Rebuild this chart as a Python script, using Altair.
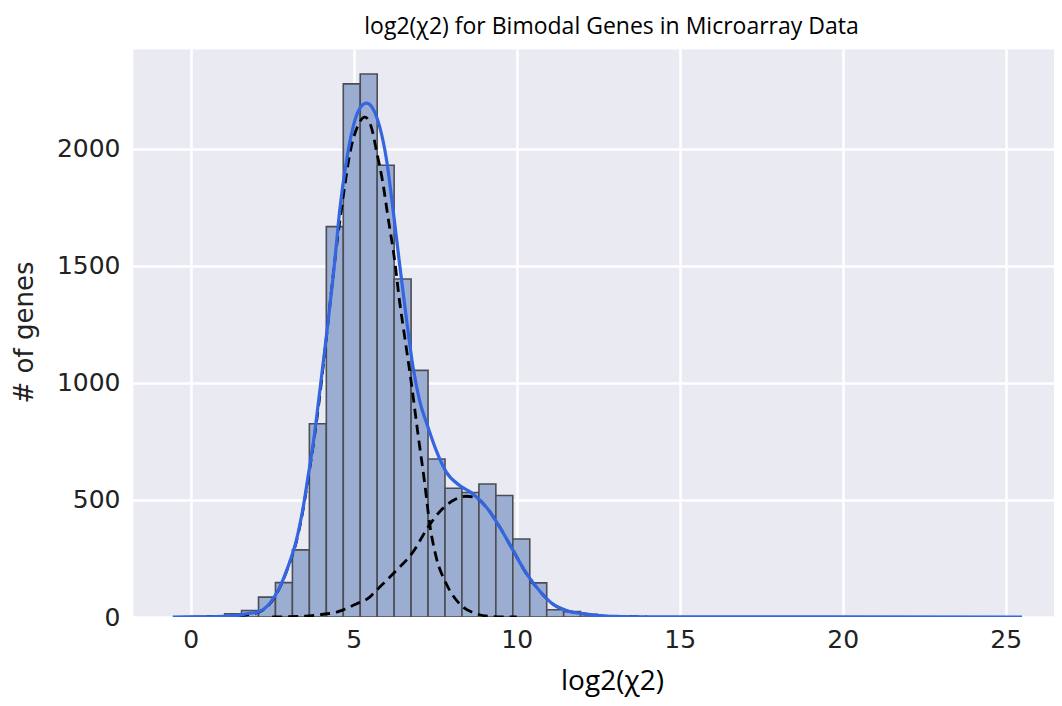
import altair as alt
import pandas as pd

# ---- data ----
bin_start = [0.0, 0.52, 1.04, 1.56, 2.08, 2.6, 3.12, 3.64, 4.16, 4.68,
             5.2, 5.72, 6.24, 6.76, 7.28, 7.8, 8.32, 8.84, 9.36, 9.88,
             10.4, 10.92, 11.44, 11.96, 12.48, 13.0, 13.52, 14.04]
bin_width = 0.52
counts = [3, 5, 14, 28, 85, 147, 287, 826, 1668, 2278, 2320, 1930, 1444, 1054,
          675, 550, 532, 568, 519, 333, 146, 31, 23, 12, 5, 3, 1, 1]

mix_x = [-0.55, 0.5, 1.0, 1.5, 1.71, 2.07, 2.42, 2.73, 2.98, 3.24, 3.45, 3.6,
         3.77, 3.92, 4.11, 4.42, 4.57, 4.78, 4.98, 5.18, 5.39, 5.59, 5.8, 6.01,
         6.21, 6.38, 6.61, 6.82, 7.02, 7.28, 7.53, 7.84, 8.25, 8.66, 9.07, 9.48,
         9.89, 10.3, 10.71, 11.11, 11.52, 12.13, 12.6, 13.2, 14.0, 25.5]
mix_y = [0, 1, 3, 8, 14, 22, 58, 127, 213, 327, 469, 600,
         754, 920, 1139, 1523, 1737, 1951, 2093, 2172, 2196, 2172, 2093, 1951,
         1737, 1540, 1281, 1068, 925, 811, 712, 619, 562, 526, 469, 384,
         284, 185, 110, 55, 28, 12, 5, 2, 0.5, 0]

c1_x = [0.5, 1.5, 2.07, 2.42, 2.73, 2.98, 3.24, 3.45, 3.6, 3.77, 3.92, 4.11,
        4.47, 4.72, 4.88, 5.13, 5.34, 5.54, 5.7, 5.9, 6.05, 6.26, 6.41, 6.56,
        6.77, 6.97, 7.18, 7.33, 7.53, 7.84, 8.25, 8.76, 9.27, 10.0]
c1_y = [0, 6, 20, 55, 125, 210, 322, 462, 590, 745, 900, 1130,
        1580, 1837, 1979, 2100, 2136, 2093, 1990, 1850, 1710, 1520, 1345, 1200,
        997, 783, 569, 398, 256, 142, 56, 14, 2, 0]

c2_x = [2.5, 3.5, 3.96, 4.5, 5.08, 5.49, 5.69, 6.31, 6.82, 7.28, 7.74, 8.15,
        8.45, 8.7, 9.07, 9.48, 9.89, 10.3, 10.71, 11.11, 11.52, 12.13, 12.6,
        13.2, 14.0]
c2_y = [0, 4, 10, 22, 56, 85, 113, 199, 278, 384, 465, 505,
        516, 512, 469, 384, 284, 185, 110, 55, 28, 12, 5, 2, 0]

x_ticks = [0, 5, 10, 15, 20, 25]
y_ticks = [0, 500, 1000, 1500, 2000]

# ---- tables ----
bars = pd.DataFrame({"x0": bin_start,
                     "x1": [b + bin_width for b in bin_start],
                     "count": counts})
mix = pd.DataFrame({"x": mix_x, "y": mix_y})
comp = pd.concat([
    pd.DataFrame({"x": c1_x, "y": c1_y, "comp": "c1"}),
    pd.DataFrame({"x": c2_x, "y": c2_y, "comp": "c2"}),
])

xscale = alt.Scale(domain=[-1.77, 26.48], nice=False, zero=False)
yscale = alt.Scale(domain=[0, 2427], nice=False)

xaxis = alt.Axis(values=x_ticks, title="log2(χ2)", titleFont="Open Sans",
                 titleFontSize=28, titleFontWeight="normal", titleColor="black",
                 titleX=479, titleY=64, titleAlign="center", titleBaseline="middle",
                 labelFont="DejaVu Sans", labelFontSize=25, labelColor="#222222",
                 labelPadding=10, format="d")
yaxis = alt.Axis(values=y_ticks, title="# of genes", titleFont="DejaVu Sans",
                 titleFontSize=26, titleFontWeight="normal", titleColor="#222222",
                 titleX=-109, titleY=283, titleAlign="center", titleBaseline="middle",
                 titleAngle=-90,
                 labelFont="DejaVu Sans", labelFontSize=25, labelColor="#222222",
                 labelPadding=13, format="d")

hist = alt.Chart(bars).mark_rect(
    fill="#9baed1", stroke="#4d4d55", strokeWidth=1.6, clip=True
).encode(
    x=alt.X("x0:Q", scale=xscale, axis=xaxis),
    x2="x1:Q",
    y=alt.Y("count:Q", scale=yscale, axis=yaxis),
    y2=alt.datum(0),
)

dashed = alt.Chart(comp).mark_line(
    color="black", strokeWidth=2.8, strokeDash=[10, 6], clip=True,
    interpolate="monotone"
).encode(
    x=alt.X("x:Q", scale=xscale),
    y=alt.Y("y:Q", scale=yscale),
    detail="comp:N",
)

blue = alt.Chart(mix).mark_line(
    color="#3366e0", strokeWidth=3.2, clip=True, interpolate="monotone"
).encode(
    x=alt.X("x:Q", scale=xscale),
    y=alt.Y("y:Q", scale=yscale),
)

chart = alt.layer(hist, dashed, blue).properties(
    width=921,
    height=568,
    title=alt.TitleParams(
        text="log2(χ2) for Bimodal Genes in Microarray Data",
        font="Open Sans", fontSize=23, fontWeight="normal", color="black",
        anchor="middle", frame="group", dx=18, offset=10,
    ),
    autosize=alt.AutoSizeParams(type="none"),
    padding={"left": 125, "top": 41, "right": 0, "bottom": 81},
).configure_view(
    fill="#eaeaf2", stroke="transparent"
).configure_axis(
    domain=False, ticks=False, tickSize=0, grid=True, gridColor="white",
    gridWidth=2.5, gridOpacity=1
)

chart.save("out.html", embed_options={"renderer": "svg", "actions": False})
